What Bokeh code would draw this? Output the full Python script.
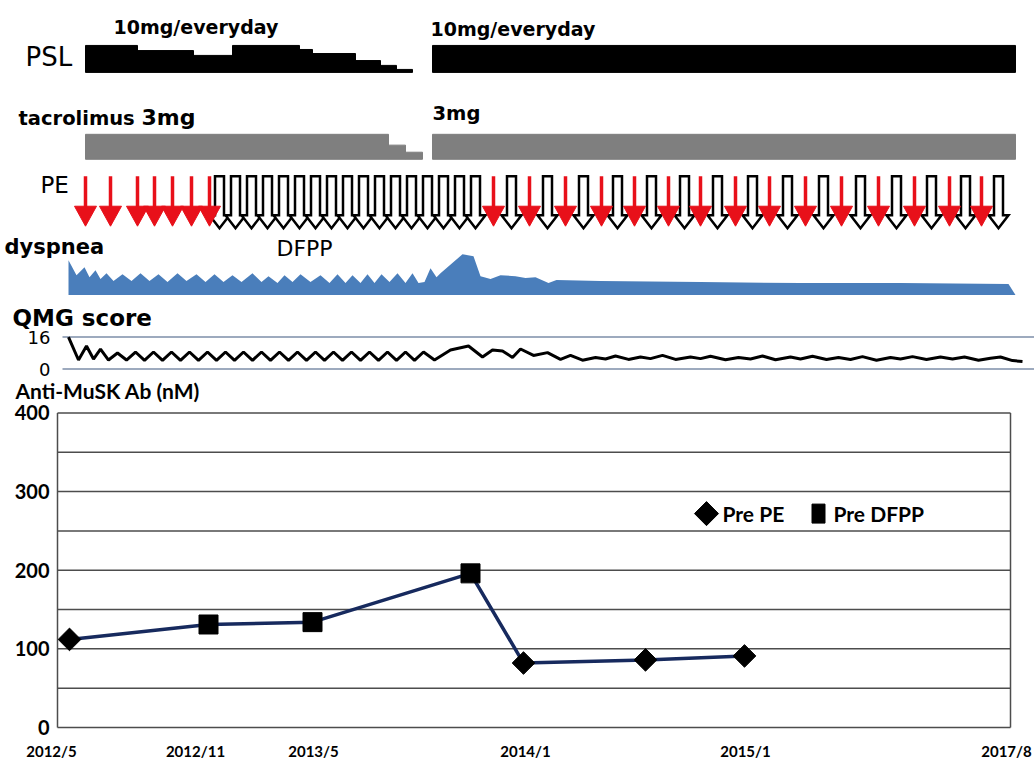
import numpy as np
from bokeh.plotting import figure
from bokeh.models import Range1d, FixedTicker, Label
from bokeh.embed import file_html
from bokeh.resources import INLINE
from bokeh.core.properties import value

# ---------------- data (schematic timeline positions shared by all panels) ----------------
psl_start = [85, 137, 193, 232, 299, 312, 355, 380, 396, 432]
psl_end = [137, 193, 232, 299, 312, 355, 380, 396, 412, 1015]
psl_dose = [10, 8.1, 6.3, 10, 8.5, 7, 4.4, 2.6, 1.1, 10]

tac_start = [85, 388, 405, 432]
tac_end = [388, 405, 422, 1015]
tac_dose = [3, 1.7, 0.85, 3]

pe_x = [85, 110, 137, 154, 172, 191, 209,
        493, 529, 565, 601, 634, 668, 700, 735, 769, 805, 841, 878, 914, 949, 981]
dfpp_x = [219, 235, 251, 267, 283, 299, 315, 331, 347, 363, 379, 395, 411, 427, 443, 459, 475,
          511, 547, 583, 617, 651, 684, 717, 752, 787, 823, 860, 896, 931, 965, 998]

dysp_x = [68, 76, 84, 89, 95, 100, 106, 113, 122, 131, 140, 149, 158, 167, 177, 186, 196, 205,
          214, 223, 232, 241, 252, 261, 268, 277, 284, 292, 300, 310, 320, 329, 337, 345, 352,
          360, 367, 374, 381, 389, 397, 405, 412, 418, 424, 430, 436, 440, 462, 473, 480, 490,
          500, 515, 525, 535, 548, 556, 600, 700, 800, 900, 1008, 1015]
dysp_v = [35, 20, 28, 18, 25, 16, 22, 14, 21, 14, 22, 14, 21, 13, 22, 14, 21, 13,
          21, 13, 20, 13, 22, 13, 19, 12, 20, 13, 21, 13, 20, 12, 21, 12, 20,
          12, 21, 12, 21, 13, 22, 12, 22, 12, 13, 27, 18, 22, 41, 39, 19, 16,
          20, 19, 17, 18, 12, 15, 14, 13, 12, 12, 11, 0]

qmg_x = [68, 78, 86, 93, 100, 108, 117, 126, 135, 144, 153, 162, 171, 180, 189, 198, 207, 216,
         225, 234, 243, 252, 261, 270, 279, 288, 297, 306, 315, 324, 333, 342, 351, 360, 369,
         378, 387, 396, 405, 414, 423, 434, 450, 468, 482, 492, 502, 512, 520, 533, 547, 560,
         570, 582, 595, 605, 615, 628, 640, 650, 662, 675, 690, 700, 710, 725, 738, 750, 762,
         775, 790, 800, 812, 826, 838, 850, 862, 876, 890, 900, 912, 926, 940, 952, 964, 978,
         990, 1000, 1012, 1022]
qmg_v = [16, 4.5, 11.5, 5, 10, 4.5, 8, 4.5, 8.5, 4.3, 8.5, 4.3, 8.5, 4.3, 8.5, 4.3, 8.5, 4.3,
         8.5, 4.3, 8.5, 4.3, 8.5, 4.3, 8.5, 4.3, 8.5, 4.3, 8.5, 4.3, 8.5, 4.3, 8.5, 4.3, 8.5,
         4.3, 8.5, 4.3, 8.5, 4.3, 8.5, 4.5, 9.5, 11.5, 6, 9.5, 9, 5.8, 10, 6.8, 8.2, 4.8,
         6.8, 4.4, 5.8, 5, 6.5, 4.8, 6, 5.2, 6.8, 4.8, 6, 5.2, 6.4, 4.6, 5.8, 5, 6.5,
         4.6, 6, 5, 6.4, 4.8, 5.8, 4.8, 6.2, 4.4, 5.8, 5, 6.2, 4.8, 6, 5, 6, 4.4,
         5.4, 6, 4.2, 3.8]
qmg_ticks = [0, 16]

ab_x = [69, 208, 312, 470, 523, 645, 744]
ab_v = [112, 131, 134, 196, 82, 86, 91]
ab_type = ["Pre PE", "Pre DFPP", "Pre DFPP", "Pre DFPP", "Pre PE", "Pre PE", "Pre PE"]
ab_grid = list(range(0, 401, 50))
ab_ticks = [0, 100, 200, 300, 400]

date_pos = [51, 195, 313, 525, 745, 1006]
date_labels = ["2012/5", "2012/11", "2013/5", "2014/1", "2015/1", "2017/8"]

# ---------------- layout (page pixels; Bokeh's page has no body margin) ----------------
W, H = 1034, 762
FB = 740                     # frame bottom (page y)
BOX_L, BOX_R = 57, 1010      # borders of the antibody chart
AB_TOP, AB_BOT = 413, 728    # page y of 400 nM and 0 nM


def band(top_px, bottom_px, vmin, vmax):
    k = (bottom_px - top_px) / (vmax - vmin)
    start = vmin - (FB - bottom_px) / k
    return Range1d(start, start + FB / k)


p = figure(width=W, height=H, output_backend="svg", toolbar_location=None,
           x_range=Range1d(0, W), y_range=band(AB_TOP, AB_BOT, 0, 400),
           y_axis_location=None,
           min_border_left=0, min_border_right=0, min_border_top=0,
           min_border_bottom=H - FB, outline_line_color=None)
p.grid.visible = False
p.extra_y_ranges = {
    "page": Range1d(FB, 0),
    "psl": band(45, 72, 0, 10),
    "tac": band(134, 159, 0, 3),
    "dysp": band(255, 295, 0, 40),
    "qmg": band(337, 369, 0, 16),
}

# ---- PSL / tacrolimus
p.quad(left=psl_start, right=psl_end, bottom=0, top=psl_dose, y_range_name="psl",
       fill_color="black", line_color="black")
p.quad(left=tac_start, right=tac_end, bottom=0, top=tac_dose, y_range_name="tac",
       fill_color="#7f7f7f", line_color="#7f7f7f")

# ---- DFPP hollow block arrows
hx, hy = [], []
for x in dfpp_x:
    hx.append([x - 4.5, x + 4.5, x + 4.5, x + 10, x, x - 10, x - 4.5])
    hy.append([176, 176, 215, 215, 228, 215, 215])
p.patches(hx, hy, y_range_name="page", fill_color="white", line_color="black",
          line_width=2.5, line_join="miter")

# ---- PE red arrows
p.segment(x0=pe_x, y0=[176] * len(pe_x), x1=pe_x, y1=[212] * len(pe_x), y_range_name="page",
          line_color="#e8101a", line_width=3.5)
p.patches([[x - 11, x + 11, x] for x in pe_x], [[206, 206, 226] for _ in pe_x],
          y_range_name="page", fill_color="#e8101a", line_color="#e8101a")

# ---- dyspnea
p.varea(x=dysp_x, y1=0, y2=dysp_v, y_range_name="dysp", fill_color="#4a7ebb")

# ---- QMG
p.segment(x0=[62] * 2, x1=[W] * 2, y0=qmg_ticks, y1=qmg_ticks, y_range_name="qmg",
          line_color="#7d8ea8", line_width=1.5)
p.line(qmg_x, qmg_v, y_range_name="qmg", line_color="black", line_width=3)
p.text(x=[50] * 2, y=qmg_ticks, text=[str(t) for t in qmg_ticks], y_range_name="qmg",
       text_font=value("DejaVu Sans"), text_font_size="18px", text_align="right",
       text_baseline="middle", text_color="black")


def lab(x, y, t, size, font="DejaVu Sans", style="normal"):
    p.add_layout(Label(x=x, y=y, y_range_name="page", text=t, text_font=font,
                       text_font_size=size, text_font_style=style, text_align="left",
                       text_baseline="middle", text_color="black"))


lab(113, 27, "10mg/everyday", "19px", style="bold")
lab(430, 29, "10mg/everyday", "19px", style="bold")
lab(25, 57, "PSL", "26px")
lab(18, 118, "tacrolimus", "19.5px", style="bold")
lab(141, 117, "3mg", "22px", style="bold")
lab(432, 113, "3mg", "19.5px", style="bold")
lab(40, 185, "PE", "23px")
lab(4, 247, "dyspnea", "21px", style="bold")
lab(276, 248, "DFPP", "22px")
lab(12, 318, "QMG score", "23px", style="bold")
lab(15, 391, "Anti-MuSK Ab (nM)", "21px", font="Lato", style="bold")

# ---------------- antibody chart ----------------
p.segment(x0=[BOX_L] * len(ab_grid), x1=[BOX_R] * len(ab_grid), y0=ab_grid, y1=ab_grid,
          line_color="#4d4d4d", line_width=1.5)
p.segment(x0=[BOX_L, BOX_R], x1=[BOX_L, BOX_R], y0=[0, 0], y1=[400, 400],
          line_color="#4d4d4d", line_width=1.5)
# value labels of the antibody axis
p.text(x=[49] * len(ab_ticks), y=ab_ticks, text=[str(t) for t in ab_ticks],
       text_font=value("Lato"), text_font_style="bold", text_font_size="20px",
       text_align="right", text_baseline="middle", text_color="black")

xa = p.xaxis[0]
xa.ticker = FixedTicker(ticks=date_pos)
xa.major_label_overrides = {d: l for d, l in zip(date_pos, date_labels)}
xa.axis_line_color = None
xa.major_tick_line_color = None
xa.minor_tick_line_color = None
xa.major_tick_out = 0
xa.major_tick_in = 0
xa.major_label_text_font = "Lato"
xa.major_label_text_font_style = "bold"
xa.major_label_text_color = "black"
xa.major_label_text_font_size = "15px"
xa.major_label_standoff = 2

p.line(ab_x, ab_v, line_color="#172a5e", line_width=3.5)
pe_i = [i for i, t in enumerate(ab_type) if t == "Pre PE"]
df_i = [i for i, t in enumerate(ab_type) if t == "Pre DFPP"]
p.scatter([ab_x[i] for i in pe_i], [ab_v[i] for i in pe_i], marker="square",
          angle=np.pi / 4, size=16, fill_color="black", line_color="black")
p.scatter([ab_x[i] for i in df_i], [ab_v[i] for i in df_i], marker="square",
          size=19, fill_color="black", line_color="black")

# legend, drawn inside the plot as in the original
p.scatter([706], [272], marker="square", angle=np.pi / 4, size=17,
          fill_color="black", line_color="black")
p.text(x=[722], y=[272], text=["Pre PE"], text_font=value("Lato"), text_font_style="bold",
       text_font_size="21px", text_baseline="middle", text_color="black")
p.rect(x=[818], y=[272], width=13, height=19, width_units="screen", height_units="screen",
       fill_color="black", line_color="black")
p.text(x=[833], y=[272], text=["Pre DFPP"], text_font=value("Lato"), text_font_style="bold",
       text_font_size="21px", text_baseline="middle", text_color="black")

open("out.html", "w").write(file_html(p, INLINE))
